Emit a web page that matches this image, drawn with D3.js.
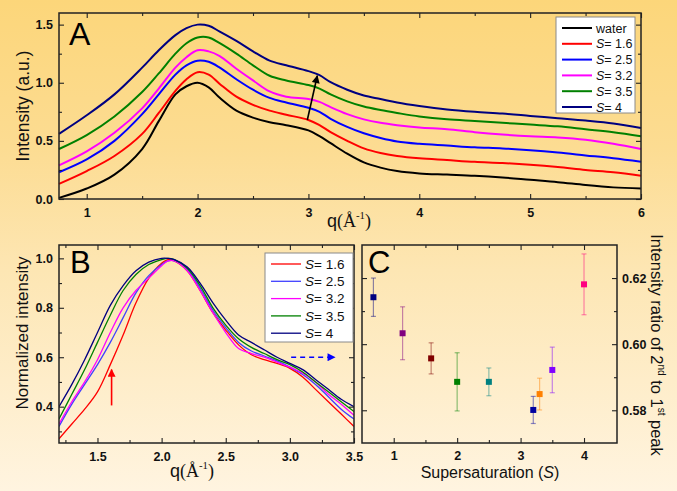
<!DOCTYPE html>
<html><head><meta charset="utf-8">
<script src="https://cdn.jsdelivr.net/npm/d3@7"></script>
<style>body{margin:0;background:#fff}svg{display:block}</style>
</head><body>
<svg id="c" width="677" height="491"></svg>
<script>
// ---------- Panel A data ----------
const qA = [0.75,1.0,1.25,1.5,1.65,1.8,1.9,2.0,2.1,2.2,2.35,2.5,2.65,2.8,3.0,3.1,3.2,3.35,3.5,3.65,3.8,4.0,4.25,4.5,4.75,5.0,5.25,5.5,5.75,6.0];
const waterA = [0.01,0.09,0.21,0.43,0.67,0.90,0.97,1.00,0.96,0.87,0.76,0.70,0.66,0.635,0.59,0.54,0.48,0.39,0.315,0.27,0.24,0.22,0.21,0.20,0.185,0.165,0.145,0.12,0.10,0.09];
const s16A  = [0.13,0.24,0.37,0.56,0.74,0.93,1.03,1.09,1.07,0.99,0.88,0.81,0.76,0.725,0.68,0.635,0.575,0.50,0.435,0.395,0.37,0.35,0.335,0.32,0.31,0.295,0.275,0.25,0.23,0.20];
const s25A  = [0.23,0.34,0.50,0.73,0.90,1.07,1.15,1.19,1.18,1.13,1.03,0.94,0.87,0.83,0.785,0.75,0.69,0.62,0.565,0.525,0.495,0.475,0.46,0.445,0.435,0.42,0.40,0.375,0.35,0.32];
const s32A  = [0.29,0.41,0.57,0.78,0.95,1.13,1.22,1.28,1.27,1.23,1.12,1.02,0.925,0.88,0.86,0.835,0.79,0.73,0.685,0.655,0.635,0.615,0.60,0.575,0.555,0.54,0.53,0.51,0.475,0.43];
const s35A  = [0.43,0.55,0.71,0.92,1.08,1.25,1.34,1.39,1.39,1.34,1.25,1.15,1.06,1.02,0.98,0.95,0.90,0.84,0.795,0.765,0.74,0.71,0.685,0.67,0.655,0.64,0.625,0.60,0.575,0.54];
const s4A   = [0.56,0.72,0.90,1.13,1.28,1.41,1.47,1.50,1.49,1.44,1.36,1.27,1.19,1.15,1.10,1.065,1.005,0.94,0.89,0.86,0.83,0.80,0.77,0.75,0.735,0.715,0.695,0.675,0.65,0.61];
const namesA = ["water","1.6","2.5","3.2","3.5","4"];
const colorsA = ["#000000","#ff0000","#0000ff","#ff00ff","#008000","#000080"];
const xTicksA = [1,2,3,4,5,6];
const yTicksA = [0.0,0.5,1.0,1.5];

// ---------- Panel B data ----------
const qB = [1.2,1.3,1.4,1.5,1.6,1.7,1.8,1.9,2.0,2.05,2.1,2.2,2.3,2.4,2.5,2.6,2.7,2.8,2.9,3.0,3.1,3.2,3.3,3.4,3.5];
const s16B = [0.27,0.33,0.39,0.46,0.57,0.69,0.82,0.92,0.98,0.995,0.99,0.95,0.87,0.78,0.71,0.65,0.61,0.59,0.575,0.555,0.52,0.47,0.42,0.37,0.32];
const s25B = [0.32,0.41,0.49,0.57,0.66,0.76,0.86,0.93,0.975,0.99,0.99,0.955,0.88,0.79,0.72,0.66,0.625,0.605,0.585,0.56,0.53,0.49,0.44,0.39,0.35];
const s32B = [0.33,0.42,0.50,0.59,0.70,0.80,0.87,0.92,0.97,0.99,0.99,0.95,0.87,0.78,0.70,0.635,0.615,0.60,0.58,0.56,0.535,0.50,0.45,0.41,0.365];
const s35B = [0.35,0.45,0.55,0.66,0.77,0.87,0.935,0.975,0.995,1.0,0.995,0.96,0.89,0.80,0.73,0.675,0.64,0.615,0.59,0.57,0.54,0.50,0.46,0.42,0.38];
const s4B  = [0.40,0.49,0.59,0.70,0.81,0.89,0.95,0.985,1.0,1.0,0.995,0.965,0.90,0.82,0.75,0.69,0.66,0.63,0.60,0.575,0.55,0.51,0.47,0.43,0.40];
const namesB = ["1.6","2.5","3.2","3.5","4"];
const colorsB = ["#ff0000","#4040ff","#ff00ff","#008000","#000080"];
const xTicksB = [1.5,2.0,2.5,3.0,3.5];
const yTicksB = [0.4,0.6,0.8,1.0];

// ---------- Panel C data ----------
const sC = [0.68,1.14,1.59,2.0,2.5,3.2,3.3,3.5,4.0];
const ratioC = [0.6142,0.6033,0.5957,0.5886,0.5886,0.5801,0.5849,0.5922,0.6181];
const errC = [0.0058,0.0080,0.0047,0.0088,0.0042,0.0041,0.0048,0.0069,0.0092];
const colorsC = ["#000080","#800080","#800000","#008000","#008080","#0000a0","#ff8000","#8000ff","#ff0080"];
const xTicksC = [1,2,3,4];
const yTicksC = [0.58,0.60,0.62];

const svg = d3.select("#c");
const defs = svg.append("defs");
const lg = defs.append("linearGradient").attr("id","bg").attr("x1",0).attr("y1",0).attr("x2",0).attr("y2",1);
[[0,"#fcd67a"],[0.3,"#fcdc92"],[0.55,"#fde6b3"],[1,"#fff4e0"]].forEach(([o,c])=>lg.append("stop").attr("offset",o).attr("stop-color",c));
svg.append("rect").attr("width",677).attr("height",491).attr("fill","url(#bg)");

function marker(id,color){
  defs.append("marker").attr("id",id).attr("viewBox","0 0 10 10").attr("refX",9).attr("refY",5)
    .attr("markerWidth",9).attr("markerHeight",8).attr("markerUnits","userSpaceOnUse").attr("orient","auto")
    .append("path").attr("d","M0,0L10,5L0,10z").attr("fill",color);
}
marker("ak","#000"); marker("ar","#ff0000"); marker("ab","#0000ff");

const SANS = "Arial, 'Liberation Sans', sans-serif";
const SERIF = "'Times New Roman', 'Liberation Serif', serif";

function range(a,b,s){const r=[];for(let v=a;v<=b+1e-9;v+=s)r.push(+v.toFixed(4));return r;}

function axes(g,x,y,c){
  const [X0,X1]=x.range(), [Y0,Y1]=y.range();
  const add=(ax,tr)=>{const a=g.append("g").attr("transform",tr).call(ax);a.select(".domain").remove();
    a.selectAll("line").attr("stroke","#222").attr("stroke-width",1.1);
    a.selectAll("text").attr("font-family",SANS).attr("font-weight","bold").attr("font-size",12.5).attr("fill","#111");return a;};
  add(d3.axisBottom(x).tickValues(c.xMaj).tickSize(-5).tickPadding(c.xPad||9).tickFormat(c.xFmt),`translate(0,${Y0})`);
  add(d3.axisBottom(x).tickValues(c.xMin).tickSize(-3).tickFormat(""),`translate(0,${Y0})`);
  add(d3.axisTop(x).tickValues(c.xMaj).tickSize(-5).tickFormat(""),`translate(0,${Y1})`);
  add(d3.axisTop(x).tickValues(c.xMin).tickSize(-3).tickFormat(""),`translate(0,${Y1})`);
  add(d3.axisLeft(y).tickValues(c.yMaj).tickSize(-5).tickPadding(6).tickFormat(c.right?"":c.yFmt),`translate(${X0},0)`);
  add(d3.axisLeft(y).tickValues(c.yMin).tickSize(-3).tickFormat(""),`translate(${X0},0)`);
  add(d3.axisRight(y).tickValues(c.yMaj).tickSize(-5).tickPadding(5).tickFormat(c.right?c.yFmt:""),`translate(${X1},0)`);
  add(d3.axisRight(y).tickValues(c.yMin).tickSize(-3).tickFormat(""),`translate(${X1},0)`);
  g.append("rect").attr("x",X0).attr("y",Y1).attr("width",X1-X0).attr("height",Y0-Y1)
    .attr("fill","none").attr("stroke","#222").attr("stroke-width",1.5);
}

function qLabel(x,y,size){
  const t=svg.append("text").attr("x",x).attr("y",y).attr("text-anchor","middle").attr("font-size",size).attr("fill","#111");
  t.append("tspan").attr("font-family",SANS).text("q");
  t.append("tspan").attr("font-family",SERIF).text("(Å");
  t.append("tspan").attr("font-family",SERIF).attr("font-size",size*0.6).attr("dy",-size*0.45).text("-1");
  t.append("tspan").attr("font-family",SERIF).attr("dy",size*0.45).text(")");
}

function legendBox(x,y,w,h,rows,colors,names,dy,fs,lw){
  const g=svg.append("g");
  g.append("rect").attr("x",x).attr("y",y).attr("width",w).attr("height",h).attr("fill","#fff").attr("stroke","#8a8a8a").attr("stroke-width",1);
  names.forEach((n,i)=>{
    const yy=y+rows+i*dy;
    g.append("line").attr("x1",x+6).attr("x2",x+36).attr("y1",yy).attr("y2",yy).attr("stroke",colors[i]).attr("stroke-width",lw);
    const t=g.append("text").attr("x",x+40).attr("y",yy+fs*0.36).attr("font-family",SANS).attr("font-size",fs).attr("fill","#111");
    if(n==="water") t.text("water");
    else { t.append("tspan").attr("font-style","italic").text("S"); t.append("tspan").text("= "+n); }
  });
}

// ================= Panel A =================
const xA=d3.scaleLinear().domain([0.75,6]).range([59,641]);
const yA=d3.scaleLinear().domain([0,1.6]).range([199,13]);
const gA=svg.append("g");
const lineA=d3.line().curve(d3.curveCatmullRom.alpha(0.5)).x((d,i)=>xA(qA[i])).y(d=>yA(d));
[waterA,s16A,s25A,s32A,s35A,s4A].forEach((s,i)=>{
  gA.append("path").attr("d",lineA(s)).attr("fill","none").attr("stroke",colorsA[i]).attr("stroke-width",2);
});
gA.append("line").attr("x1",xA(2.99)).attr("y1",yA(0.68)).attr("x2",xA(3.08)).attr("y2",yA(1.06))
  .attr("stroke","#000").attr("stroke-width",1.6).attr("marker-end","url(#ak)");
axes(gA,xA,yA,{xMaj:xTicksA,xMin:range(1.5,5.5,1),xFmt:d3.format("d"),yMaj:yTicksA,yMin:range(0.25,1.25,0.5),yFmt:d3.format(".1f")});
svg.append("text").attr("x",69).attr("y",45).attr("font-family",SANS).attr("font-size",32).attr("fill","#000").text("A");
svg.append("text").attr("transform","translate(29,106) rotate(-90)").attr("text-anchor","middle")
  .attr("font-family",SANS).attr("font-size",17.5).attr("fill","#111").text("Intensity (a.u.)");
qLabel(349,227,18);
legendBox(556,17,79,96,11,colorsA,namesA,15.8,12.5,2);

// ================= Panel B =================
const xB=d3.scaleLinear().domain([1.2,3.5]).range([59,354]);
const yB=d3.scaleLinear().domain([0.253,1.054]).range([443,245]);
const gB=svg.append("g");
const lineB=d3.line().curve(d3.curveCatmullRom.alpha(0.5)).x((d,i)=>xB(qB[i])).y(d=>yB(d));
gB.append("defs").append("clipPath").attr("id","cb").append("rect").attr("x",59).attr("y",245).attr("width",295).attr("height",198);
[s16B,s25B,s32B,s35B,s4B].forEach((s,i)=>{
  gB.append("path").attr("d",lineB(s)).attr("clip-path","url(#cb)").attr("fill","none").attr("stroke",colorsB[i]).attr("stroke-width",1.3);
});
axes(gB,xB,yB,{xMaj:xTicksB,xMin:range(1.25,3.25,0.5),xFmt:d3.format(".1f"),yMaj:yTicksB,yMin:range(0.3,0.9,0.2),yFmt:d3.format(".1f")});
legendBox(265,253,88,89,11,colorsB,namesB,17.3,13.5,1.3);
gB.append("line").attr("x1",xB(1.61)).attr("y1",yB(0.405)).attr("x2",xB(1.61)).attr("y2",yB(0.55))
  .attr("stroke","#ff0000").attr("stroke-width",1.6).attr("marker-end","url(#ar)");
gB.append("line").attr("x1",xB(3.01)).attr("y1",yB(0.6)).attr("x2",xB(3.35)).attr("y2",yB(0.6))
  .attr("stroke","#0000ff").attr("stroke-width",1.6).attr("stroke-dasharray","5,4").attr("marker-end","url(#ab)");
svg.append("text").attr("x",70).attr("y",273).attr("font-family",SANS).attr("font-size",31).attr("fill","#000").text("B");
svg.append("text").attr("transform","translate(28,333) rotate(-90)").attr("text-anchor","middle")
  .attr("font-family",SANS).attr("font-size",17).attr("fill","#111").text("Normalized intensity");
qLabel(192,477,18);

// ================= Panel C =================
const xC=d3.scaleLinear().domain([0.5,4.52]).range([362,617]);
const yC=d3.scaleLinear().domain([0.5701,0.63]).range([443,245]);
const gC=svg.append("g");
axes(gC,xC,yC,{xMaj:xTicksC,xMin:range(1.5,3.5,1),xFmt:d3.format("d"),xPad:8,yMaj:yTicksC,yMin:[0.59,0.61],yFmt:d3.format(".2f"),right:true});
sC.forEach((s,i)=>{
  const cx=xC(s), c=colorsC[i];
  const g=gC.append("g").attr("stroke",c).attr("stroke-opacity",0.45).attr("stroke-width",1.2);
  g.append("line").attr("x1",cx).attr("x2",cx).attr("y1",yC(ratioC[i]-errC[i])).attr("y2",yC(ratioC[i]+errC[i]));
  [ratioC[i]-errC[i],ratioC[i]+errC[i]].forEach(v=>g.append("line").attr("x1",cx-2.5).attr("x2",cx+2.5).attr("y1",yC(v)).attr("y2",yC(v)));
  gC.append("rect").attr("x",cx-3).attr("y",yC(ratioC[i])-3).attr("width",6).attr("height",6).attr("fill",c);
});
svg.append("text").attr("x",368).attr("y",273).attr("font-family",SANS).attr("font-size",31).attr("fill","#000").text("C");
const xl=svg.append("text").attr("x",490).attr("y",478).attr("text-anchor","middle").attr("font-family",SANS).attr("font-size",16).attr("fill","#111");
xl.append("tspan").text("Supersaturation (");xl.append("tspan").attr("font-style","italic").text("S");xl.append("tspan").text(")");
const rl=svg.append("text").attr("transform","translate(651,345) rotate(90)").attr("text-anchor","middle").attr("font-family",SANS).attr("font-size",16.5).attr("fill","#111");
rl.append("tspan").text("Intensity ratio of 2");
rl.append("tspan").attr("font-size",10).attr("dy",-7).text("nd");
rl.append("tspan").attr("dy",7).text(" to 1");
rl.append("tspan").attr("font-size",10).attr("dy",-7).text("st");
rl.append("tspan").attr("dy",7).text(" peak");
</script>
</body></html>
